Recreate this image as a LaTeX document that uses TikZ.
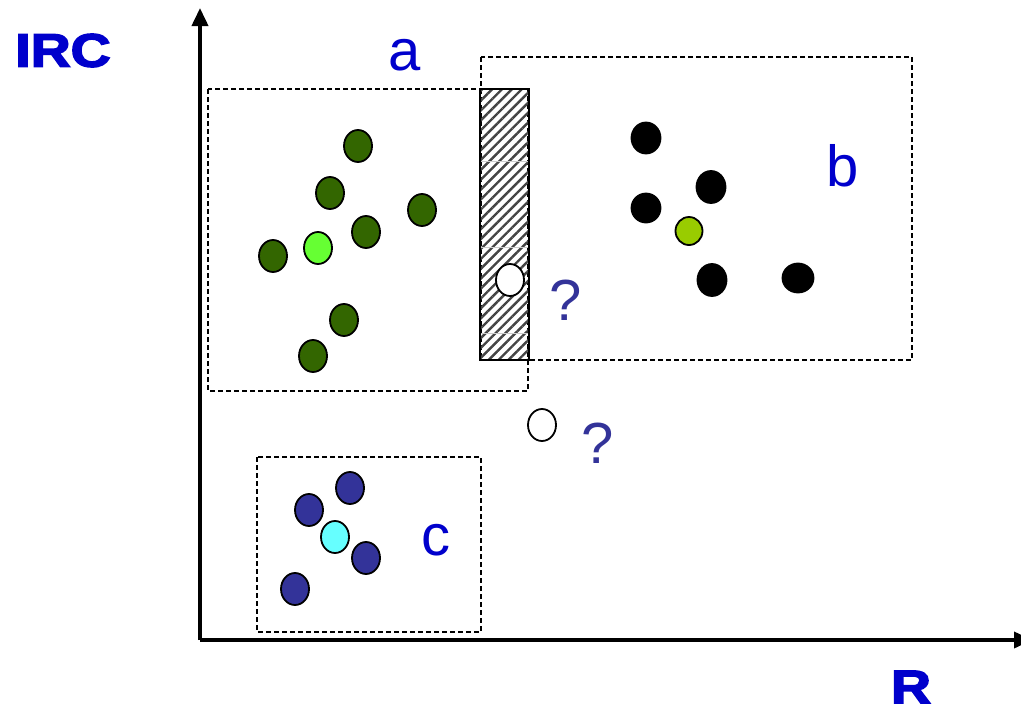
\documentclass[tikz,border=0pt]{standalone}
\usepackage{fontspec}
\setmainfont{Liberation Sans}
\newfontfamily\heavyfont{Liberation Sans}[BoldFeatures={FakeBold=3}]
\usetikzlibrary{arrows.meta,shapes.geometric,patterns.meta}
\definecolor{LabelBlue}{HTML}{0000CC}
\definecolor{AskBlue}{HTML}{333399}
\definecolor{Moss}{HTML}{336600}
\definecolor{Lime}{HTML}{66FF33}
\definecolor{Olive}{HTML}{99CC00}
\definecolor{Navy}{HTML}{333399}
\definecolor{Aqua}{HTML}{66FFFF}
\definecolor{Hatch}{HTML}{444444}

\begin{document}
\begin{tikzpicture}[x=1pt,y=-1pt,
  dot/.style={ellipse,draw=black,line width=1.8pt,minimum width=28pt,minimum height=32pt,inner sep=0pt},
  region/.style={draw=black,dash pattern=on 5pt off 3pt,line width=1.4pt},
  letter/.style={text=LabelBlue,font=\fontsize{58}{60}\selectfont},
  ask/.style={text=AskBlue,font=\fontsize{58}{60}\selectfont},
  axislabel/.style={text=LabelBlue,inner sep=0pt,font=\heavyfont\bfseries\fontsize{47}{50}\selectfont,xscale=1.18},
  axis/.style={line width=3.8pt,-{Triangle[length=18pt,width=16pt]}}]
\useasboundingbox (0,0) rectangle (1021,710);
% regions
\draw[region] (208,89) rectangle (528,391);
\draw[region] (481,57) rectangle (912,360);
\draw[region] (257,457) rectangle (481,632);
% uncertain band
\fill[pattern={Lines[angle=45,distance=7pt,line width=2.4pt]},pattern color=Hatch] (480,89) rectangle (529,360);
\foreach \y in {161,247,333} \draw[black!20,line width=0.6pt] (480,\y) -- (529,\y);
\draw[line width=1.8pt] (480,89) rectangle (529,360);
% axes
\coordinate (o) at (200,640);
\coordinate (ytop) at (200,8);
\coordinate (xend) at (1032,640);
\draw[axis] (o) -- (ytop);
\draw[axis] (o) -- (xend);
\node[axislabel] (irc) at (63,50.5) {IRC};
\node[axislabel] (r) at (911,687) {R};
% class a
\node[dot,fill=Moss] (a1) at (358,146) {};
\node[dot,fill=Moss] (a2) at (330,193) {};
\node[dot,fill=Moss] (a3) at (422,210) {};
\node[dot,fill=Moss] (a4) at (366,232) {};
\node[dot,fill=Moss] (a5) at (273,256) {};
\node[dot,fill=Lime] (a6) at (318,248) {};
\node[dot,fill=Moss] (a7) at (344,320) {};
\node[dot,fill=Moss] (a8) at (313,356) {};
% class b
\node[dot,fill=black,minimum width=29pt,minimum height=31pt] (b1) at (646,138) {};
\node[dot,fill=black,minimum width=29pt,minimum height=32pt] (b2) at (711,187) {};
\node[dot,fill=black,minimum width=29pt,minimum height=29pt] (b3) at (646,208) {};
\node[dot,fill=Olive,minimum width=27pt,minimum height=28pt] (b4) at (689,231) {};
\node[dot,fill=black,minimum width=29pt,minimum height=32pt] (b5) at (712,280) {};
\node[dot,fill=black,minimum width=31pt,minimum height=29pt] (b6) at (798,278) {};
% class c
\node[dot,fill=Navy] (c1) at (350,488) {};
\node[dot,fill=Navy] (c2) at (309,510) {};
\node[dot,fill=Aqua] (c3) at (335,537) {};
\node[dot,fill=Navy] (c4) at (366,558) {};
\node[dot,fill=Navy] (c5) at (295,589) {};
% unknown samples
\node[dot,fill=white] (u1) at (510,280) {};
\node[dot,fill=white] (u2) at (542,425) {};
% labels
\node[letter] (la) at (405,55) {a};
\node[letter] (lb) at (843,166) {b};
\node[letter] (lc) at (436,540) {c};
\node[ask] (q1) at (566,300) {?};
\node[ask] (q2) at (598,443) {?};
\end{tikzpicture}
\end{document}
